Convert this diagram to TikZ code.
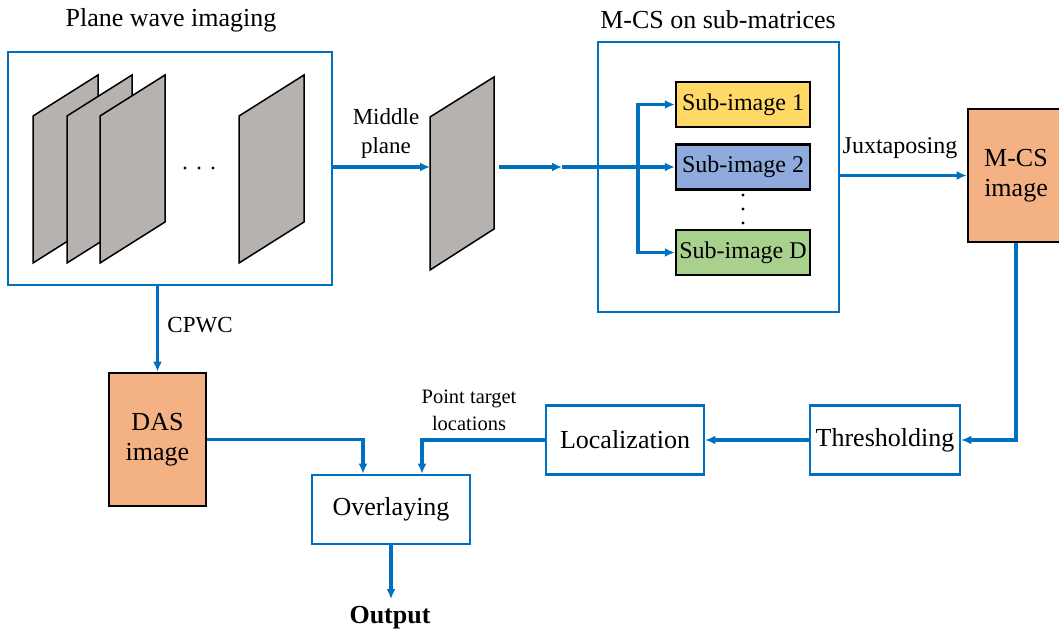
\documentclass[tikz,border=0pt]{standalone}
\usepackage{fontspec}
\setmainfont{Liberation Serif}
\usetikzlibrary{arrows.meta}
\definecolor{lblue}{HTML}{0070C0}
\definecolor{orangefill}{HTML}{F4B183}
\definecolor{yellowfill}{HTML}{FFD966}
\definecolor{bluefill}{HTML}{8FAADC}
\definecolor{greenfill}{HTML}{A9D18E}
\definecolor{planegray}{HTML}{B6B2B0}
\begin{document}
\begin{tikzpicture}[x=1pt,y=-1pt,
  conn/.style={draw=lblue, line width=3.1pt, -{Latex[length=10pt,width=9pt]}},
  bluebox/.style={draw=lblue, line width=2.6pt, fill=white, inner sep=0pt, align=center, font=\fontsize{26}{30}\selectfont},
  colbox/.style={draw=black, line width=2.6pt, inner sep=0pt, align=center, font=\fontsize{26}{30}\selectfont},
  subbox/.style={draw=black, line width=2.4pt, inner sep=0pt, minimum width=134pt, minimum height=45pt, font=\fontsize{24}{27}\selectfont},
  plane/.style={draw=black, line width=1.5pt, fill=planegray, line join=miter},
  lbl/.style={inner sep=0pt, align=center, font=\fontsize{23}{29}\selectfont},
  title/.style={inner sep=0pt, font=\fontsize{26}{30}\selectfont}
]
\useasboundingbox (0,0) rectangle (1059,636);

% titles
\node[title] (t1) at (171,20) {Plane wave imaging};
\node[title] (t2) at (718,20) {M-CS on sub-matrices};

% plane wave box with planes
\node[bluebox, minimum width=324pt, minimum height=233pt] (pw) at (170,168.5) {};
\draw[plane] (33,116) -- (98,75) -- (98,222) -- (33,263) -- cycle;
\draw[plane] (67,116) -- (132,75) -- (132,222) -- (67,263) -- cycle;
\draw[plane] (100,116) -- (165,75) -- (165,222) -- (100,263) -- cycle;
\draw[plane] (239,116) -- (304,75) -- (304,222) -- (239,263) -- cycle;
\foreach \x in {185,199,213} \fill (\x,168) circle (1.7);

% middle plane
\draw[plane] (430,117) -- (494,77) -- (494,229) -- (430,270) -- cycle;
\coordinate (mpl) at (430,167);
\coordinate (mpr) at (499,167);
\node[lbl] (midlbl) at (386,133) {Middle\\plane};

% M-CS box
\node[bluebox, minimum width=241pt, minimum height=270pt] (mcs) at (718.5,177) {};
\node[subbox, fill=yellowfill] (sub1) at (743,104.5) {Sub-image 1};
\node[subbox, fill=bluefill] (sub2) at (743,167) {Sub-image 2};
\node[subbox, fill=greenfill] (subD) at (743,252.5) {Sub-image D};
\foreach \y in {195,209,223} \fill (743,\y) circle (1.7);

% M-CS image
\node[colbox, fill=orangefill, minimum width=96pt, minimum height=133pt] (mcsimg) at (1016,175.5) {M-CS\\image};
\node[lbl, font=\fontsize{24}{29}\selectfont] (jux) at (900,148) {Juxtaposing};

% lower row
\node[bluebox, minimum width=150pt, minimum height=69pt] (thr) at (885,440) {Thresholding};
\node[bluebox, minimum width=158pt, minimum height=69pt] (loc) at (625,440) {Localization};
\node[bluebox, minimum width=158pt, minimum height=69pt] (ov) at (391,509.5) {Overlaying};
\node[colbox, fill=orangefill, minimum width=97pt, minimum height=133pt] (das) at (157.5,439.5) {DAS\\image};
\node[lbl, font=\fontsize{20.5}{27}\selectfont] (ptl) at (469,410) {Point target\\locations};
\node[lbl] (cpwc) at (200,325) {CPWC};
\node[title, font=\fontsize{26}{30}\selectfont\bfseries] (out) at (390,618) {Output};
\coordinate (outtip) at (391,599);

% connectors
\draw[conn] (mpl -| pw.east) -- (mpl);
\coordinate (midarr) at (562,167);
\coordinate (br) at (638,167);
\draw[conn] (mpr) -- (midarr);
\draw[conn] (midarr) -- (sub2.west);
\draw[conn] (br) |- (sub1.west);
\draw[conn] (br) |- (subD.west);
\draw[conn] (mcs.east |- mcsimg) -- (mcsimg.west);
\draw[conn] (mcsimg.south) |- (thr.east);
\draw[conn] (thr.west) -- (loc.east);
\draw[conn] (loc.west) -| ([xshift=31pt]ov.north);
\draw[conn] (das.east) -| ([xshift=-28pt]ov.north);
\draw[conn] (ov.south) -- (outtip);
\draw[conn] (das.north |- pw.south) -- (das.north);
\end{tikzpicture}
\end{document}
